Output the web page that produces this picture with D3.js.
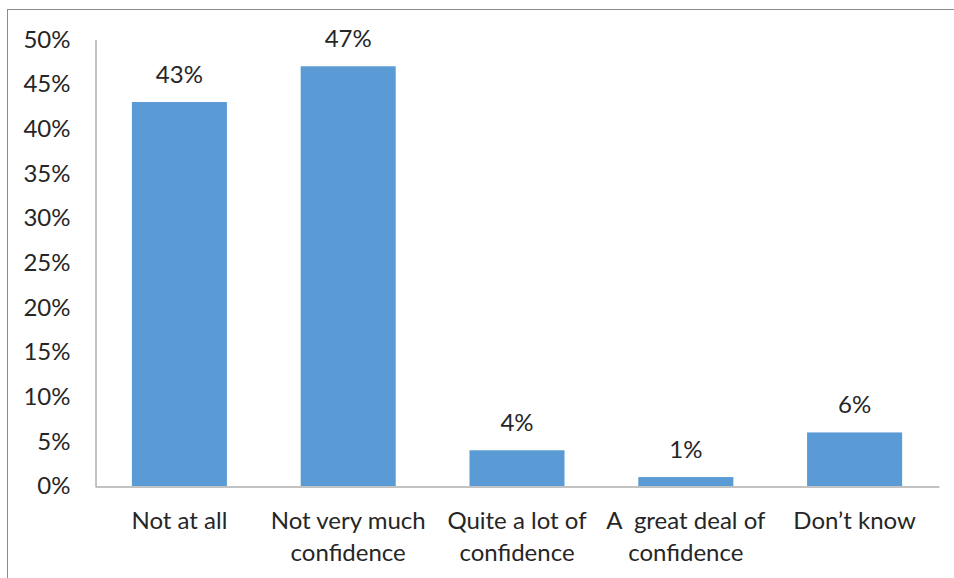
<!DOCTYPE html>
<html><head><meta charset="utf-8">
<script src="https://cdn.jsdelivr.net/npm/d3@7"></script>
<style>body{margin:0;background:#fff;}svg{display:block;}</style>
</head><body>
<svg id="c" width="954" height="578"></svg>
<script>
const categories = ["Not at all", "Not very much confidence", "Quite a lot of confidence", "A  great deal of confidence", "Don\u2019t know"];
const categoryLines = [["Not at all"], ["Not very much", "confidence"], ["Quite a lot of", "confidence"], ["A\u00a0 great deal of", "confidence"], ["Don\u2019t know"]];
const values = [0.43, 0.47, 0.04, 0.01, 0.06];
const valueLabels = ["43%", "47%", "4%", "1%", "6%"];
const yTicks = [0, 0.05, 0.10, 0.15, 0.20, 0.25, 0.30, 0.35, 0.40, 0.45, 0.50];

const svg = d3.select("#c");
const font = "Lato, 'Open Sans', sans-serif";
const fontSize = 24;
const textColor = "#262626";
const plotLeft = 95, plotRight = 939, plotTop = 39.5, plotBottom = 486;

svg.append("rect").attr("x", 7.5).attr("y", 9.5).attr("width", 960).attr("height", 600)
  .attr("fill", "none").attr("stroke", "#8c8c8c").attr("stroke-width", 1);

const x = d3.scaleBand().domain(categories).range([plotLeft, plotRight]).paddingInner(0.437).paddingOuter(0.2185);
const y = d3.scaleLinear().domain([0, 0.5]).range([plotBottom, plotTop]);

// y axis
const yAxis = svg.append("g").attr("transform", `translate(${plotLeft + 0.5},0)`)
  .call(d3.axisLeft(y).tickValues(yTicks).tickFormat(d3.format(".0%")).tickSize(0).tickPadding(25));
yAxis.select(".domain").attr("stroke", "#868686");
yAxis.selectAll("text").attr("font-family", font).attr("font-size", fontSize).attr("fill", textColor);

// bars
svg.append("g").selectAll("rect").data(values).join("rect")
  .attr("x", (d, i) => x(categories[i]))
  .attr("width", x.bandwidth())
  .attr("y", d => y(d))
  .attr("height", d => y(0) - y(d))
  .attr("fill", "#5B9BD5");

// x axis
const xAxis = svg.append("g").attr("transform", `translate(0,${plotBottom + 0.5})`)
  .call(d3.axisBottom(x).tickSize(0).tickFormat(""));
xAxis.select(".domain").attr("stroke", "#868686");

// category labels
const cl = svg.append("g").selectAll("text").data(categories).join("text")
  .attr("x", d => x(d) + x.bandwidth() / 2)
  .attr("y", 529)
  .attr("text-anchor", "middle")
  .attr("font-family", font).attr("font-size", fontSize).attr("fill", textColor);
cl.each(function(d, i) {
  const t = d3.select(this);
  categoryLines[i].forEach((line, j) => {
    t.append("tspan").attr("x", x(d) + x.bandwidth() / 2).attr("dy", j === 0 ? 0 : 32).text(line);
  });
});

// value labels
svg.append("g").selectAll("text").data(values).join("text")
  .attr("x", (d, i) => x(categories[i]) + x.bandwidth() / 2)
  .attr("y", d => y(d) - 19)
  .attr("text-anchor", "middle")
  .attr("font-family", font).attr("font-size", fontSize).attr("fill", textColor)
  .text((d, i) => valueLabels[i]);
</script>
</body></html>
